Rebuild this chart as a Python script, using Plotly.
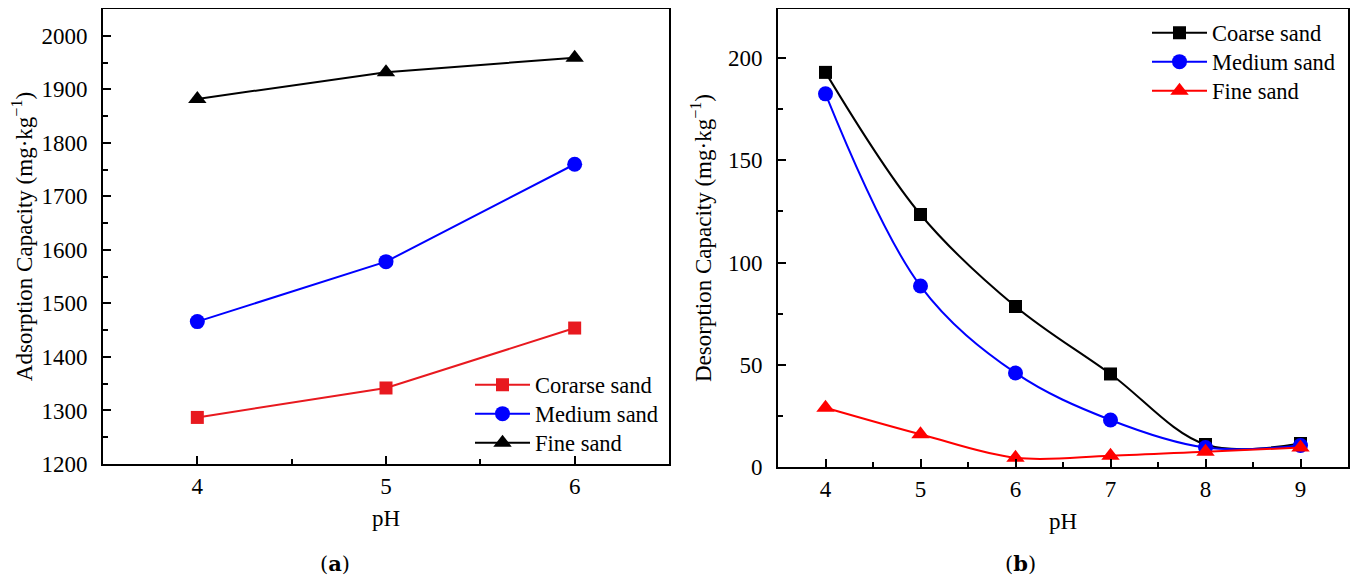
import plotly.graph_objects as go

# ---- data ----
ph_a = [4, 5, 6]
ads_coarse = [1287, 1342, 1454]
ads_medium = [1466, 1578, 1760]
ads_fine = [1882, 1932, 1959]

ph_b = [4, 5, 6, 7, 8, 9]
des_coarse = [193, 123.5, 78.5, 45.5, 11, 11.5]
des_medium = [182.5, 88.5, 46, 23, 9.5, 10.5]
des_fine = [29, 16, 4.5, 5.5, 7.5, 9.5]

yticks_a = [1200, 1300, 1400, 1500, 1600, 1700, 1800, 1900, 2000]
yticks_b = [0, 50, 100, 150, 200]

# page has an 8px body margin; figure fills the rest of the window
OFF = 8
W, H = 1358 - OFF, 575 - OFF
FONT = "Liberation Serif"
FS = 23
LFS = 22.5
RED_A = "#e8191f"
RED_B = "#ff0000"
BLUE = "#0000ff"


def px(x):
    return min(1.0, max(0.0, (x - OFF) / W))


def py(y):
    return min(1.0, max(0.0, 1 - (y - OFF) / H))


fig = go.Figure()

# panel (a)
fig.add_trace(go.Scatter(x=ph_a, y=ads_coarse, name="Corarse sand", mode="lines+markers",
                         line=dict(color=RED_A, width=2),
                         marker=dict(symbol="square", size=13, color=RED_A),
                         xaxis="x", yaxis="y", legend="legend"))
fig.add_trace(go.Scatter(x=ph_a, y=ads_medium, name="Medium sand", mode="lines+markers",
                         line=dict(color=BLUE, width=2),
                         marker=dict(symbol="circle", size=15, color=BLUE),
                         xaxis="x", yaxis="y", legend="legend2"))
fig.add_trace(go.Scatter(x=ph_a, y=ads_fine, name="Fine sand", mode="lines+markers",
                         line=dict(color="black", width=2),
                         marker=dict(symbol="triangle-up", size=16, color="black"),
                         xaxis="x", yaxis="y", legend="legend3"))

# panel (b)
fig.add_trace(go.Scatter(x=ph_b, y=des_coarse, name="Coarse sand", mode="lines+markers",
                         line=dict(color="black", width=2, shape="spline"),
                         marker=dict(symbol="square", size=13, color="black"),
                         xaxis="x2", yaxis="y2", legend="legend4"))
fig.add_trace(go.Scatter(x=ph_b, y=des_medium, name="Medium sand", mode="lines+markers",
                         line=dict(color=BLUE, width=2, shape="spline"),
                         marker=dict(symbol="circle", size=15, color=BLUE),
                         xaxis="x2", yaxis="y2", legend="legend5"))
fig.add_trace(go.Scatter(x=ph_b, y=des_fine, name="Fine sand", mode="lines+markers",
                         line=dict(color=RED_B, width=2, shape="spline"),
                         marker=dict(symbol="triangle-up", size=16, color=RED_B),
                         xaxis="x2", yaxis="y2", legend="legend6"))

axis_common = dict(showline=True, linecolor="black", linewidth=2, mirror=True,
                   ticks="inside", ticklen=8, tickwidth=1.5, tickcolor="black",
                   showgrid=False, zeroline=False,
                   tickfont=dict(family=FONT, size=FS, color="black"),
                   automargin=False)
minor_common = dict(ticks="inside", ticklen=5, tickwidth=1.5, tickcolor="black")


def leg(x, y):
    return dict(x=px(x), y=py(y), xanchor="left", yanchor="middle",
                bgcolor="rgba(0,0,0,0)", font=dict(family=FONT, size=LFS),
                tracegroupgap=0, itemwidth=55)


fig.update_layout(
    width=W, height=H,
    margin=dict(l=0, r=0, t=0, b=0),
    paper_bgcolor="white", plot_bgcolor="white",
    font=dict(family=FONT, size=FS, color="black"),
    showlegend=True,
    xaxis=dict(**axis_common, domain=[px(103), px(669)], range=[3.5, 6.5],
               tickvals=ph_a, anchor="y",
               minor=dict(dtick=0.5, tick0=3.5, **minor_common),
               title=dict(text="pH", font=dict(family=FONT, size=FS), standoff=12)),
    yaxis=dict(**axis_common, domain=[py(464), py(9)], range=[1200, 2050],
               tickvals=yticks_a, anchor="x", ticklabelstandoff=9,
               minor=dict(dtick=50, tick0=1200, **minor_common),
               title=dict(text="Adsorption Capacity (mg·kg<sup>−1</sup>)",
                          font=dict(family=FONT, size=FS), standoff=10)),
    xaxis2=dict(**axis_common, domain=[px(778), px(1348)], range=[3.5, 9.5],
                tickvals=ph_b, anchor="y2",
                minor=dict(dtick=0.5, tick0=3.5, **minor_common),
                title=dict(text="pH", font=dict(family=FONT, size=FS), standoff=12)),
    yaxis2=dict(**axis_common, domain=[py(467), py(9)], range=[0, 224],
                tickvals=yticks_b, anchor="x2", ticklabelstandoff=9,
                minor=dict(dtick=25, tick0=0, **minor_common),
                title=dict(text="Desorption Capacity (mg·kg<sup>−1</sup>)",
                           font=dict(family=FONT, size=FS), standoff=10)),
    legend=leg(470, 385),
    legend2=leg(470, 414),
    legend3=leg(470, 443),
    legend4=leg(1147, 33),
    legend5=leg(1147, 62),
    legend6=leg(1147, 91),
    annotations=[
        dict(text="(<b>a</b>)", x=px(335), y=py(563), xref="paper", yref="paper",
             xanchor="center", yanchor="middle",
             showarrow=False, font=dict(family="DejaVu Serif", size=21, color="black")),
        dict(text="(<b>b</b>)", x=px(1020), y=py(563), xref="paper", yref="paper",
             xanchor="center", yanchor="middle",
             showarrow=False, font=dict(family="DejaVu Serif", size=21, color="black")),
    ],
)

fig.write_html("out.html")
